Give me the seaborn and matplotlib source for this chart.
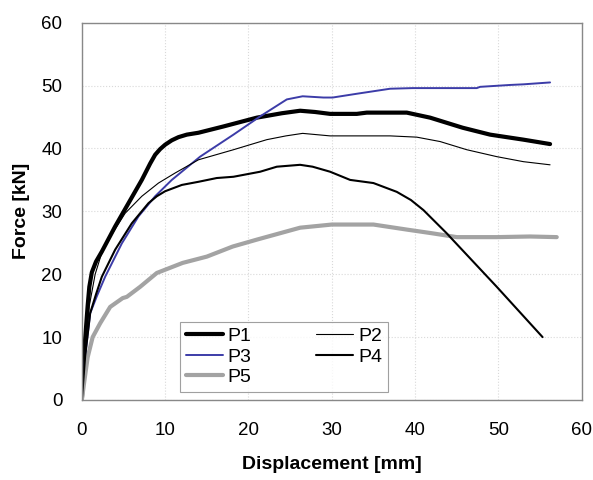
"""Force-displacement curves for specimens P1-P5."""

import matplotlib.pyplot as plt
import pandas as pd
import seaborn as sns

# values
P1_X = [0, 0.3, 0.7, 0.9, 1.2, 1.7, 2.4, 4.0, 5.6, 7.2, 8.2, 8.8, 9.4, 10.0, 10.8, 11.6,
        12.6, 14.0, 17.0, 21.0, 24.0, 26.2, 28.0, 29.8, 33.0, 34.2, 39.0, 41.8, 45.7,
        49.0, 53.0, 56.2]
P1_Y = [0, 8, 15, 18, 20.3, 22.0, 23.6, 27.6, 31.3, 35.0, 37.6, 39.0, 39.9, 40.6, 41.3,
        41.8, 42.2, 42.5, 43.5, 44.9, 45.6, 46.0, 45.8, 45.5, 45.5, 45.7, 45.7, 44.9, 43.3,
        42.2, 41.4, 40.7]

P2_X = [0, 0.4, 0.9, 1.6, 2.3, 3.2, 5.2, 7.2, 9.2, 11.2, 14.0, 18.2, 22.2, 24.5, 26.5,
        29.8, 37.0, 40.2, 43.0, 46.2, 49.8, 53.0, 56.2]
P2_Y = [0, 8, 15, 20.0, 23.0, 25.5, 29.7, 32.4, 34.5, 36.1, 38.2, 39.8, 41.4, 42.0, 42.4,
        42.0, 42.0, 41.8, 41.1, 39.8, 38.7, 37.9, 37.4]

P3_X = [0, 0.4, 1.0, 1.8, 2.8, 4.8, 6.8, 8.8, 10.8, 14.2, 18.2, 21.4, 24.6, 26.5, 29.0,
        30.1, 33.0, 37.0, 39.7, 47.4, 47.8, 51.4, 53.0, 56.2]
P3_Y = [0, 7, 13.8, 16.5, 19.6, 24.9, 29.2, 32.4, 35.0, 38.7, 42.2, 45.1, 47.8, 48.3, 48.1,
        48.1, 48.7, 49.5, 49.6, 49.6, 49.8, 50.1, 50.2, 50.5]

P4_X = [0, 0.4, 1.0, 1.7, 2.4, 4.0, 6.0, 8.0, 9.0, 10.0, 12.0, 14.0, 16.2, 18.2, 21.4,
        23.4, 26.2, 27.7, 29.8, 32.2, 35.0, 37.8, 39.5, 41.0, 43.8, 44.5, 49.8, 55.3]
P4_Y = [0, 7, 13.8, 16.8, 19.6, 23.9, 28.1, 31.3, 32.4, 33.2, 34.2, 34.7, 35.3, 35.5, 36.3,
        37.1, 37.4, 37.1, 36.3, 35.0, 34.5, 33.1, 31.8, 30.2, 26.5, 25.5, 18.0, 10.0]

P5_X = [0, 0.3, 0.7, 1.3, 2.2, 3.4, 4.9, 5.4, 7.0, 9.0, 12.1, 15.0, 18.1, 21.0, 26.2,
        30.0, 35.0, 39.0, 42.1, 45.0, 49.8, 53.8, 57.0]
P5_Y = [0, 3, 6.8, 10.0, 12.2, 14.8, 16.2, 16.4, 18.0, 20.2, 21.8, 22.8, 24.4, 25.5, 27.4,
        27.9, 27.9, 27.1, 26.5, 25.9, 25.9, 26.0, 25.9]

SERIES = [
    ("P1", P1_X, P1_Y, "black", 3.0),
    ("P3", P3_X, P3_Y, "#3c3ca8", 1.4),
    ("P5", P5_X, P5_Y, "#a3a3a3", 3.0),
    ("P2", P2_X, P2_Y, "black", 0.8),
    ("P4", P4_X, P4_Y, "black", 1.5),
]

sns.set_style("white")
plt.rcParams["font.family"] = ["Liberation Sans", "DejaVu Sans"]
plt.rcParams["text.color"] = "black"
plt.rcParams["axes.labelcolor"] = "black"
plt.rcParams["xtick.color"] = "black"
plt.rcParams["ytick.color"] = "black"

fig = plt.figure(figsize=(5.93, 4.8), dpi=100)
ax = fig.add_axes([0.138, 0.1667, 0.843, 0.786])

for name, xs, ys, color, lw in SERIES:
    df = pd.DataFrame({"x": xs, "y": ys})
    sns.lineplot(data=df, x="x", y="y", ax=ax, color=color, linewidth=lw,
                 label=name, sort=False, estimator=None)

ax.set_xlim(0, 60)
ax.set_ylim(0, 60)
ax.set_xticks(range(0, 61, 10))
ax.set_yticks(range(0, 61, 10))
ax.grid(True, color="#d9d9d9", linestyle=":", linewidth=0.8)
for side in ax.spines.values():
    side.set_color("#888888")
    side.set_linewidth(1.0)
ax.tick_params(axis="both", direction="out", length=4, width=1, color="#888888",
               labelcolor="black", labelsize=13.5)
ax.tick_params(axis="x", pad=12)
ax.tick_params(axis="y", pad=10)

ax.set_xlabel("Displacement [mm]", fontsize=14, fontweight="bold", labelpad=12)
ax.set_ylabel("Force [kN]", fontsize=14, fontweight="bold", labelpad=8)

leg = ax.legend(loc="lower left", bbox_to_anchor=(0.196, 0.021, 0.416, 0.2),
                mode="expand", ncol=2, fontsize=14,
                frameon=True, fancybox=False, handlelength=1.9, handletextpad=0.25,
                labelspacing=0.15, columnspacing=2.0, borderpad=0.3, borderaxespad=0)
leg.get_frame().set_edgecolor("#888888")
leg.get_frame().set_linewidth(0.8)

fig.savefig("out.png", dpi=100)
